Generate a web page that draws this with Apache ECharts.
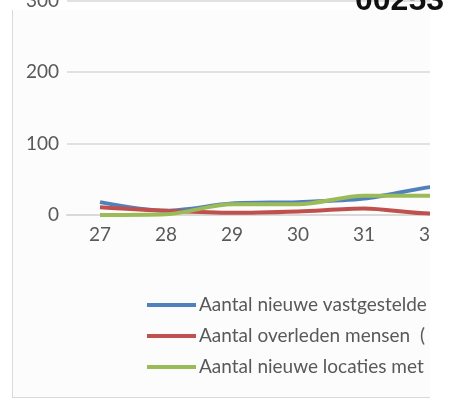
<!DOCTYPE html>
<html><head><meta charset="utf-8">
<script src="https://cdn.jsdelivr.net/npm/echarts@6/dist/echarts.min.js"></script>
<style>html,body{margin:0;padding:0;background:#fff}#c{width:450px;height:400px}</style>
</head><body><div id="c"></div>
<script>
const categories = ['27', '28', '29', '30', '31', '32', '33'];
const seriesNames = ['Aantal nieuwe vastgestelde', 'Aantal overleden mensen  (', 'Aantal nieuwe locaties met'];
const blueValues = [18, 6, 16, 18, 23, 39, 48];
const redValues = [11, 6, 3, 5, 9, 2, 2];
const greenValues = [0, 1, 15, 15, 27, 27, 28];
const yTicks = [0, 100, 200, 300];
const headerText = '00253';

const colors = ['#4F81BD', '#C0504D', '#9BBB59'];
const font = 'Lato';
const chart = echarts.init(document.getElementById('c'));
const values = [blueValues, redValues, greenValues];
chart.setOption({
  backgroundColor: '#ffffff',
  animation: false,
  grid: { left: 67, top: 0.5, width: 462, height: 214.5, containLabel: false, outerBoundsMode: 'none' },
  xAxis: {
    type: 'category', data: categories, boundaryGap: true,
    axisLine: { lineStyle: { color: '#d9d9d9', width: 2 } },
    axisTick: { show: false },
    axisLabel: { fontSize: 19, color: '#595959', fontFamily: font, margin: 10 }
  },
  yAxis: {
    type: 'value', min: yTicks[0], max: yTicks[yTicks.length - 1], interval: 100,
    axisLine: { show: false }, axisTick: { show: false },
    axisLabel: { fontSize: 19, color: '#595959', fontFamily: font, margin: 8 },
    splitLine: { lineStyle: { color: '#d9d9d9', width: 1.5 } }
  },
  legend: {
    orient: 'vertical', left: 142, top: 290, selectedMode: false,
    icon: 'rect', itemWidth: 49, itemHeight: 4, itemGap: 11,
    textStyle: { fontSize: 19, color: '#595959', fontFamily: font, lineHeight: 20, padding: [0, 0, 0, -2] },
    data: seriesNames
  },
  series: seriesNames.map((n, i) => ({
    name: n, type: 'line', data: values[i], smooth: 0.3, showSymbol: false,
    lineStyle: { color: colors[i], width: 4 }, itemStyle: { color: colors[i] }
  })),
  graphic: [
    { type: 'rect', z: -10, shape: { x: 12, y: 10, width: 418, height: 387 }, style: { fill: '#fcfcfc' } },
    { type: 'line', z: 50, shape: { x1: 12.5, y1: 10, x2: 12.5, y2: 397 }, style: { stroke: '#d9d9d9', lineWidth: 1 } },
    { type: 'line', z: 50, shape: { x1: 12, y1: 397.5, x2: 430, y2: 397.5 }, style: { stroke: '#d9d9d9', lineWidth: 1 } },
    { type: 'rect', z: 100, shape: { x: 430, y: 0, width: 20, height: 400 }, style: { fill: '#ffffff' } },
    { type: 'text', z: 101, x: 355, y: 17, style: { text: headerText, font: 'bold 32px "Liberation Sans"', fill: '#111', verticalAlign: 'bottom' } }
  ]
});
</script></body></html>
